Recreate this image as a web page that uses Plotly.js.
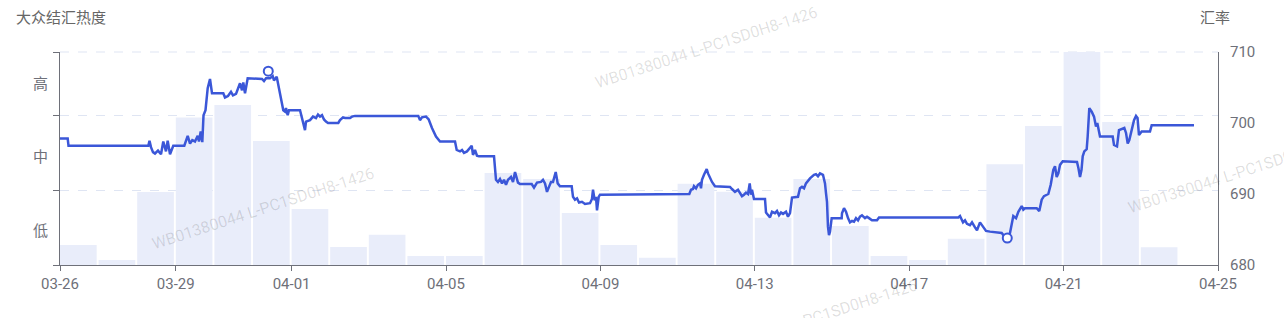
<!DOCTYPE html>
<html>
<head>
<meta charset="utf-8">
<script src="https://cdn.plot.ly/plotly-3.0.1.min.js"></script>
<style>
html,body{margin:0;padding:0;background:#fff;}
#chart{width:1284px;height:318px;}
</style>
</head>
<body>
<div id="chart"></div>
<script>
const YEAR = '2022-';
const barDays = ['03-26','03-27','03-28','03-29','03-30','03-31','04-01','04-02','04-03','04-04','04-05','04-06','04-07','04-08','04-09','04-10','04-11','04-12','04-13','04-14','04-15','04-16','04-17','04-18','04-19','04-20','04-21','04-22','04-23'];
const heatValues = [9.4,2.3,34.3,69.2,75.1,58.2,26.3,8.5,14.2,4.2,4.2,43.2,40.4,24.4,9.4,3.4,38.2,34.4,22.2,40.4,18.3,4.2,2.3,12.3,47.3,65.3,100,67.1,8.3];

const rateTime = ['03-26 00:00','03-26 04:47','03-26 05:17','03-28 06:55','03-28 07:39','03-28 08:34','03-28 09:49','03-28 11:04','03-28 12:56','03-28 14:48','03-28 16:13','03-28 17:54','03-28 18:57','03-28 20:24','03-28 22:26','03-29 05:17','03-29 07:24','03-29 08:50','03-29 10:15','03-29 11:56','03-29 13:37','03-29 14:25','03-29 15:29','03-29 16:29','03-29 17:14','03-29 18:28','03-29 19:50','03-29 21:16','03-29 22:31','03-30 05:32','03-30 06:36','03-30 08:27','03-30 10:19','03-30 11:34','03-30 13:26','03-30 15:55','03-30 17:10','03-30 17:58','03-30 19:02','03-30 20:42','03-31 05:36','03-31 06:50','03-31 08:05','03-31 10:34','03-31 12:15','03-31 13:03','03-31 14:44','03-31 16:46','03-31 18:01','03-31 18:50','03-31 19:53','03-31 20:31','03-31 21:34','03-31 22:23','04-01 05:14','04-01 06:28','04-01 07:17','04-01 08:20','04-01 08:57','04-01 11:27','04-01 13:18','04-01 15:10','04-01 16:25','04-01 17:40','04-01 18:55','04-01 20:08','04-01 21:23','04-01 22:38','04-02 05:02','04-02 06:06','04-02 07:58','04-02 09:12','04-02 12:19','04-02 13:33','04-02 15:25','04-04 06:46','04-04 07:49','04-04 09:04','04-04 11:34','04-04 13:15','04-04 15:17','04-04 17:47','04-04 20:17','04-05 05:36','04-05 06:39','04-05 08:42','04-05 09:57','04-05 11:11','04-05 13:03','04-05 14:18','04-05 15:59','04-05 16:47','04-05 18:01','04-05 19:16','04-05 20:31','04-06 05:51','04-06 06:27','04-06 07:05','04-06 08:19','04-06 09:34','04-06 10:49','04-06 12:04','04-06 13:18','04-06 14:33','04-06 16:25','04-06 17:40','04-06 18:55','04-06 20:46','04-06 22:01','04-07 05:17','04-07 06:43','04-07 08:35','04-07 11:04','04-07 12:19','04-07 13:34','04-07 14:48','04-07 16:02','04-07 17:17','04-07 18:32','04-07 20:13','04-07 21:27','04-07 22:52','04-08 06:09','04-08 06:58','04-08 08:12','04-08 09:27','04-08 10:42','04-08 12:33','04-08 14:25','04-08 17:32','04-08 18:46','04-08 19:24','04-08 20:27','04-08 21:16','04-08 21:53','04-08 22:57','04-08 23:45','04-09 04:06','04-09 05:21','04-11 07:17','04-11 08:20','04-11 09:34','04-11 10:12','04-11 11:27','04-11 12:40','04-11 13:55','04-11 14:33','04-11 15:10','04-11 16:25','04-11 18:06','04-11 18:55','04-11 20:08','04-11 21:23','04-11 23:15','04-12 08:35','04-12 09:49','04-12 11:41','04-12 13:34','04-12 14:48','04-12 16:02','04-12 17:17','04-12 18:32','04-12 19:47','04-12 20:50','04-12 21:39','04-12 22:15','04-12 23:30','04-13 06:20','04-13 06:58','04-13 08:12','04-13 09:27','04-13 10:42','04-13 12:33','04-13 13:48','04-13 15:03','04-13 16:18','04-13 17:33','04-13 19:24','04-13 20:38','04-13 21:53','04-13 23:08','04-14 02:51','04-14 04:06','04-14 05:21','04-14 06:36','04-14 07:49','04-14 10:19','04-14 12:49','04-14 14:02','04-14 15:17','04-14 16:32','04-14 18:24','04-14 19:39','04-14 20:17','04-14 20:53','04-14 21:30','04-14 22:08','04-14 22:45','04-14 23:48','04-15 06:01','04-15 06:13','04-15 07:28','04-15 08:43','04-15 09:58','04-15 11:11','04-15 12:26','04-15 13:41','04-15 14:56','04-15 16:11','04-15 17:24','04-15 18:39','04-15 20:31','04-15 21:46','04-15 23:01','04-16 00:52','04-16 03:59','04-16 05:14','04-18 06:32','04-18 07:35','04-18 08:50','04-18 09:27','04-18 10:42','04-18 11:56','04-18 13:48','04-18 15:03','04-18 16:55','04-18 18:09','04-18 20:01','04-18 21:16','04-18 22:31','04-18 23:46','04-19 02:14','04-19 09:30','04-19 10:57','04-19 12:48','04-19 14:40','04-19 16:44','04-19 18:25','04-19 19:51','04-19 21:58','04-19 22:57','04-20 00:00','04-20 07:16','04-20 08:53','04-20 10:23','04-20 11:48','04-20 14:30','04-20 15:59','04-20 17:36','04-20 18:39','04-20 19:42','04-20 20:43','04-20 21:46','04-20 23:27','04-21 08:20','04-21 09:16','04-21 10:12','04-21 11:08','04-21 11:53','04-21 12:52','04-21 14:21','04-21 14:58','04-21 15:22','04-21 15:59','04-21 17:28','04-21 18:55','04-21 20:08','04-21 20:57','04-21 22:38','04-22 06:31','04-22 07:21','04-22 09:12','04-22 10:26','04-22 12:07','04-22 13:45','04-22 14:49','04-22 15:52','04-22 16:51','04-22 18:20','04-22 19:47','04-22 21:01','04-22 21:58','04-22 22:52','04-23 00:33','04-23 05:43','04-23 06:46','04-24 09:04'];
const rateValue = [697.8,697.8,696.8,696.8,697.5,696.6,695.9,695.7,696.1,695.6,697.4,696.0,697.5,695.6,696.8,696.8,698.2,697.1,697.6,697.4,698.2,697.4,698.8,697.3,701.1,701.8,704.9,706.2,704.2,704.2,703.6,703.8,704.4,703.9,704.1,705.6,704.6,705.7,704.2,706.3,706.2,705.9,706.3,706.3,706.6,706.0,706.5,704.2,702.8,701.8,701.6,702.1,701.1,701.8,701.8,700.7,700.2,699.0,700.2,700.4,700.9,700.7,701.2,700.9,701.1,700.5,700.2,700.0,700.0,700.4,700.8,700.7,700.7,700.9,701.0,701.0,700.4,700.8,700.9,700.5,699.3,698.1,697.4,697.4,696.2,696.0,696.2,695.8,696.0,696.4,696.8,695.5,696.2,695.4,695.3,695.3,693.8,692.0,691.7,692.1,691.5,692.0,691.3,692.0,692.4,691.7,693.1,691.6,691.4,691.4,690.9,691.6,691.7,692.0,691.5,690.3,691.0,691.7,691.7,693.1,691.5,691.1,691.1,689.6,689.2,689.4,688.8,688.9,688.6,688.7,689.3,690.6,689.1,689.6,687.7,689.6,689.9,689.9,690.0,690.0,690.6,690.7,691.1,690.8,691.3,691.5,690.8,692.0,692.7,693.5,692.9,692.2,691.7,691.1,691.0,690.7,690.3,690.6,690.1,689.7,689.9,690.2,690.0,691.5,689.9,690.6,689.3,689.3,687.4,687.0,686.7,687.5,687.3,687.6,687.0,687.4,687.2,687.5,686.8,687.3,689.5,689.6,690.8,691.0,690.8,691.5,692.2,692.7,692.8,692.5,692.9,692.7,691.5,690.1,688.9,685.4,684.2,684.7,686.6,686.6,687.3,688.0,687.5,686.6,686.0,686.2,686.1,686.6,686.3,686.8,687.0,686.6,686.8,686.6,686.3,686.3,686.7,686.7,686.9,686.3,686.0,686.3,685.8,685.6,686.0,685.3,684.9,686.0,685.6,685.2,684.8,684.7,684.5,684.1,683.9,684.5,686.9,686.6,687.5,688.3,687.8,688.0,688.0,687.6,689.2,689.7,690.0,691.3,693.4,693.9,692.4,692.9,694.1,694.6,694.5,693.6,692.4,693.4,695.3,696.0,696.3,698.1,700.4,702.1,701.6,700.9,699.5,700.0,698.1,698.1,696.9,696.7,699.0,699.1,699.3,698.6,697.1,697.6,699.0,700.4,701.0,700.7,698.3,698.8,698.8,699.7,699.7];

const extremeTime = ['03-31 09:30','04-19 12:59'];
const extremeValue = [707.3,683.8];

const heatTicks = [0,35.2,70,100];
const heatLabelPos = [16,50.7,85];
const heatLabels = ['低','中','高'];
const rateTicks = [680,690,700,710];
const dateTicks = ['03-26','03-29','04-01','04-05','04-09','04-13','04-17','04-21','04-25'];

const AX = '#6e7079';
const GRID = '#dfe5f3';
const FONT = 'Roboto, "Noto Sans CJK SC", sans-serif';
const DAY = 86400000;

const traces = [
  {
    type:'bar', x: barDays.map(d=>YEAR+d), y: heatValues,
    width: 0.95*DAY, offset: 0,
    marker:{color:'#e9edfa', line:{width:0}},
    yaxis:'y', hoverinfo:'skip'
  },
  {
    type:'scatter', mode:'lines', x: rateTime.map(t=>YEAR+t), y: rateValue,
    line:{color:'#3b57d8', width:2.5}, yaxis:'y2', hoverinfo:'skip'
  },
  {
    type:'scatter', mode:'markers', x: extremeTime.map(t=>YEAR+t), y: extremeValue,
    marker:{symbol:'circle', size:9, color:'#ffffff', line:{color:'#3b57d8', width:2}},
    yaxis:'y2', hoverinfo:'skip', cliponaxis:false
  }
];

const wm = 'WB01380044 L-PC1SD0H8-1426';
const wmStyle = {font:{family:FONT, size:16, color:'rgba(0,0,0,0.13)'}, textangle:-18, showarrow:false, xref:'paper', yref:'paper', xanchor:'center', yanchor:'middle'};

const annotations = [
  {text:'大众结汇热度', xref:'paper', yref:'paper', x:-0.0397, y:1.16, xanchor:'left', yanchor:'middle', showarrow:false, font:{family:FONT, size:15, color:'#666666'}},
  {text:'汇率', xref:'paper', yref:'paper', x:0.9974, y:1.16, xanchor:'center', yanchor:'middle', showarrow:false, font:{family:FONT, size:15, color:'#666666'}},
  Object.assign({text:wm, x:0.1753, y:0.263}, wmStyle),
  Object.assign({text:wm, x:0.558, y:1.023}, wmStyle),
  Object.assign({text:wm, x:0.644, y:-0.26}, wmStyle),
  Object.assign({text:wm, x:1.018, y:0.432}, wmStyle)
];
heatLabels.forEach((t,i)=>annotations.push({
  text:t, xref:'paper', yref:'y', x:0, y:heatLabelPos[i], xanchor:'right', yanchor:'middle',
  xshift:-10, showarrow:false, font:{family:FONT, size:15, color:AX}
}));

const layout = {
  width:1284, height:318,
  margin:{l:60, r:66, t:52, b:53},
  paper_bgcolor:'#ffffff', plot_bgcolor:'#ffffff',
  showlegend:false,
  font:{family:FONT, size:14, color:AX},
  xaxis:{
    type:'date', range:[YEAR+'03-26', YEAR+'04-25'],
    tickvals: dateTicks.map(d=>YEAR+d), tickformat:'%m-%d',
    ticks:'outside', ticklen:5, tickcolor:AX, tickwidth:1,
    showline:true, linecolor:AX, linewidth:1,
    showgrid:false, zeroline:false,
    tickfont:{size:15, color:AX}
  },
  yaxis:{
    range:[0,100], tickvals:heatTicks, showticklabels:false,
    ticks:'outside', ticklen:6, tickcolor:AX,
    showline:true, linecolor:AX, linewidth:1,
    showgrid:true, gridcolor:GRID, griddash:'dash', gridwidth:1,
    zeroline:false, fixedrange:true
  },
  yaxis2:{
    overlaying:'y', side:'right', anchor:'x',
    range:[680,710], tickvals:rateTicks,
    ticks:'outside', ticklen:8, tickcolor:'rgba(0,0,0,0)',
    showline:true, linecolor:AX, linewidth:1,
    showgrid:false, zeroline:false,
    tickfont:{size:15, color:AX}
  },
  shapes:[
    {type:'line', xref:'paper', yref:'paper', x0:0, x1:1, y0:1, y1:1, line:{color:GRID, width:1, dash:'dash'}, layer:'below'}
  ],
  annotations: annotations
};

Plotly.newPlot('chart', traces, layout, {staticPlot:true, displayModeBar:false});
</script>
</body>
</html>
